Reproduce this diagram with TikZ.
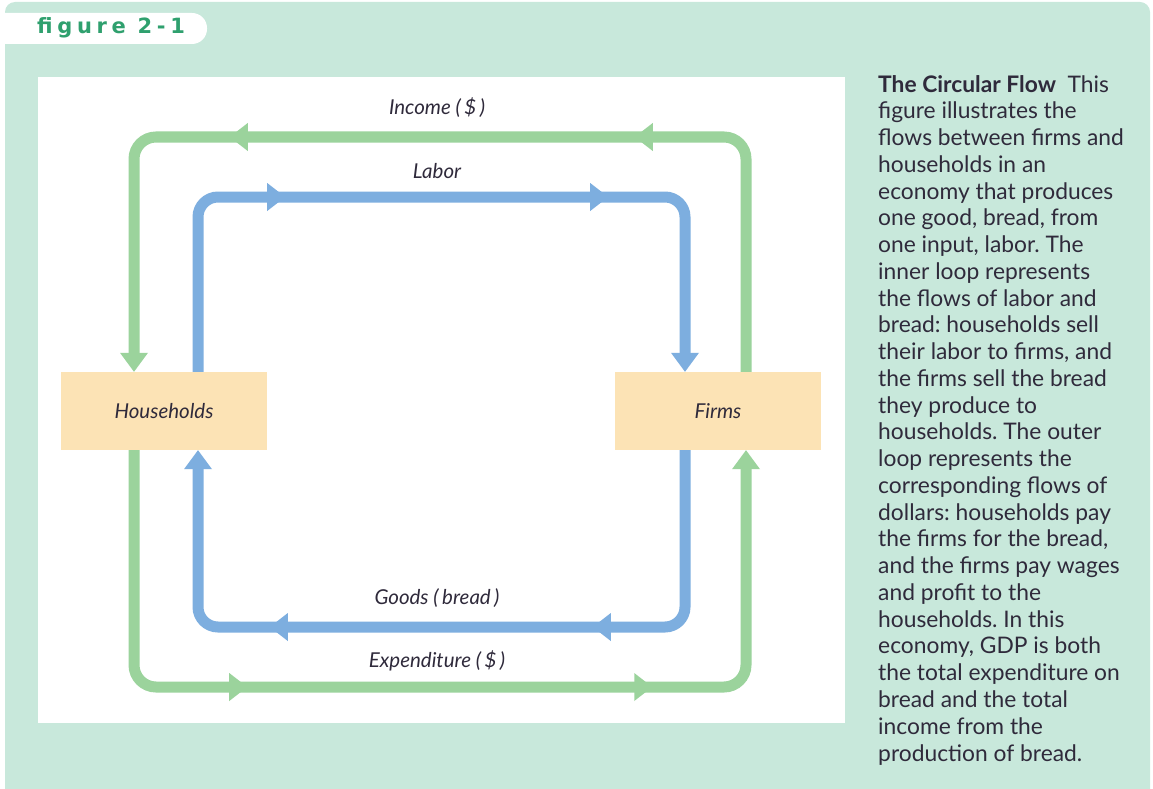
\documentclass[tikz,border=0pt]{standalone}
\usepackage{fontspec}
\setmainfont{Lato}
\newfontfamily\tagfont[LetterSpace=22]{DejaVu Sans}
\usetikzlibrary{arrows.meta,decorations.markings}
\frenchspacing

\definecolor{mint}{HTML}{C8E8DB}
\definecolor{flowgreen}{HTML}{9BD39C}
\definecolor{flowblue}{HTML}{7DAEDF}
\definecolor{boxfill}{HTML}{FCE3B5}
\definecolor{ink}{HTML}{2F2A3B}
\definecolor{tagink}{HTML}{2FA06E}

\tikzset{
  tip/.tip={Triangle[width=28pt,length=19pt,line width=0pt]},
  flow/.style={line width=11pt, rounded corners=#1, -tip},
  gflow/.style={flow=22pt, draw=flowgreen, color=flowgreen},
  bflow/.style={flow=20pt, draw=flowblue, color=flowblue},
  midtips/.style 2 args={postaction={decorate}, decoration={markings,
      mark=at position #1 with {\arrow{Triangle[width=28pt,length=18pt,line width=0pt]}},
      mark=at position #2 with {\arrow{Triangle[width=28pt,length=18pt,line width=0pt]}}}},
  sector/.style={fill=boxfill, inner sep=0pt, minimum width=206pt, minimum height=78pt,
      text=ink, font=\fontsize{20.5}{24}\selectfont\itshape},
  flowlabel/.style={text=ink, inner sep=0pt, font=\fontsize{20.5}{24}\selectfont\itshape}
}

\begin{document}
\begin{tikzpicture}[x=1pt,y=-1pt]
  \useasboundingbox (0,0) rectangle (1153,789);
  \clip (0,0) rectangle (1153,789);

  % panel background and title tab
  \fill[mint, rounded corners=10pt] (5,2) rectangle (1150,820);
  \fill[white, rounded corners=15pt] (-30,13) rectangle (207,44);
  \node[anchor=base west, inner sep=0pt, text=tagink,
        font=\tagfont\bfseries\fontsize{21}{24}\selectfont] (tag) at (37,34) {figure 2-1};

  % white drawing area
  \fill[white] (38,77) rectangle (845,723);

  % sectors
  \node[sector] (hh) at (164,411) {Households};
  \node[sector] (firms) at (718,411) {Firms};

  % loop corners
  \coordinate (gTL) at (134,137);
  \coordinate (gBR) at (746,687);
  \coordinate (bTL) at (198,197);
  \coordinate (bBR) at (685,627);

  % outer loop: dollars
  \draw[gflow, midtips={336.6pt}{741.6pt}]
    (firms.north -| gBR) -- (gBR |- gTL) -- (gTL) -- (hh.north -| gTL);
  \draw[gflow, midtips={340.6pt}{745.6pt}]
    (hh.south -| gTL) -- (gTL |- gBR) -- (gBR) -- (firms.south -| gBR);

  % inner loop: labor and bread
  \draw[bflow, midtips={253.4pt}{576.4pt}]
    (hh.north -| bTL) -- (bTL) -- (bBR |- bTL) -- (firms.north -| bBR);
  \draw[bflow, midtips={260.4pt}{583.4pt}]
    (firms.south -| bBR) -- (bBR) -- (bTL |- bBR) -- (hh.south -| bTL);

  % flow labels
  \node[flowlabel] (lincome) at (437,108) {Income (\,\$\,)};
  \node[flowlabel] (llabor) at (437,171) {Labor};
  \node[flowlabel] (lgoods) at (437,598) {Goods (\,bread\,)};
  \node[flowlabel] (lexp) at (437,661) {Expenditure (\,\$\,)};

  % caption (base anchor sits on the last line)
  \node[anchor=base west, inner sep=0pt, align=left, text=ink,
        font=\fontsize{22.8}{26.76}\selectfont] (caption) at (878,761) {%
    \textbf{The Circular Flow}\ \ This\\
    figure illustrates the\\
    flows between firms and\\
    households in an\\
    economy that produces\\
    one good, bread, from\\
    one input, labor. The\\
    inner loop represents\\
    the flows of labor and\\
    bread: households sell\\
    their labor to firms, and\\
    the firms sell the bread\\
    they produce to\\
    households. The outer\\
    loop represents the\\
    corresponding flows of\\
    dollars: households pay\\
    the firms for the bread,\\
    and the firms pay wages\\
    and profit to the\\
    households. In this\\
    economy, GDP is both\\
    the total expenditure on\\
    bread and the total\\
    income from the\\
    production of bread.};
\end{tikzpicture}
\end{document}
